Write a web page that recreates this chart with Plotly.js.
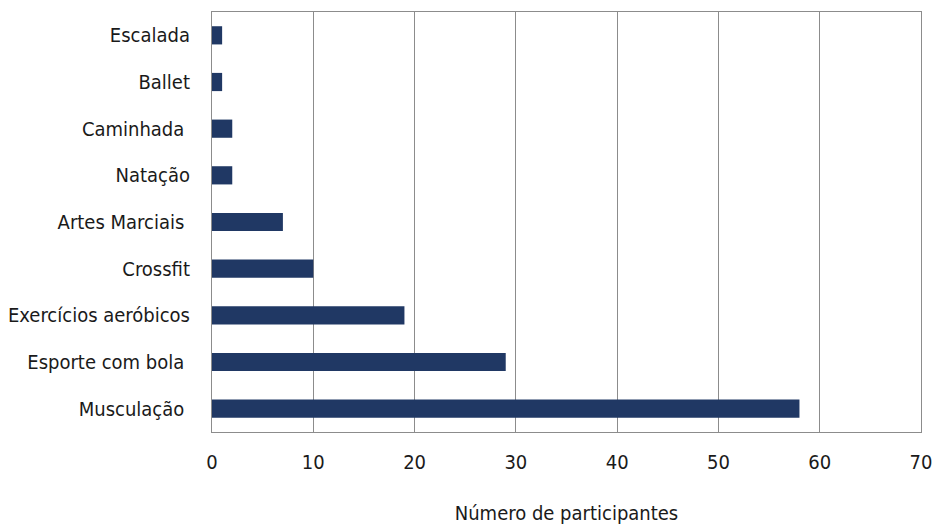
<!DOCTYPE html>
<html><head><meta charset="utf-8">
<script src="https://cdn.plot.ly/plotly-3.0.1.min.js"></script>
<style>html,body{margin:0;padding:0;background:#fff}</style>
</head><body>
<div id="chart" style="width:933px;height:525px"></div>
<script>
const categories = ["Escalada","Ballet","Caminhada\u00a0","Natação","Artes Marciais\u00a0","Crossfit","Exercícios aeróbicos","Esporte com bola\u00a0","Musculação\u00a0"];
const participants = [1,1,2,2,7,10,19,29,58];
const xTicks = [0,10,20,30,40,50,60,70];

const font = {family: "'Liberation Sans Narrow', 'DejaVu Sans Condensed', 'Liberation Sans', sans-serif", size: 20, color: "#1a1a1a"};

Plotly.newPlot("chart", [{
  type: "bar",
  orientation: "h",
  y: categories,
  x: participants,
  width: 0.39,
  marker: {color: "#203864", line: {color: "#203864", width: 0}},
  hoverinfo: "x+y"
}], {
  width: 933, height: 525,
  margin: {l: 212, r: 12, t: 12, b: 93},
  paper_bgcolor: "#fff", plot_bgcolor: "#fff",
  showlegend: false,
  font: font,
  xaxis: {
    range: [0, 70], tickvals: xTicks, ticktext: xTicks.map(String),
    showgrid: true, gridcolor: "#8c8c8c", gridwidth: 1,
    zeroline: false, showline: true, linecolor: "#8c8c8c", mirror: true,
    ticks: "", ticklabelstandoff: 12,
    tickfont: font,
    title: {text: "Número de participantes", font: font, standoff: 32}
  },
  yaxis: {
    autorange: "reversed", showgrid: false, zeroline: false,
    showline: true, linecolor: "#8c8c8c", mirror: true,
    ticks: "", ticklabelstandoff: 17, tickfont: font
  }
}, {displayModeBar: false, staticPlot: true});
</script>
</body></html>
